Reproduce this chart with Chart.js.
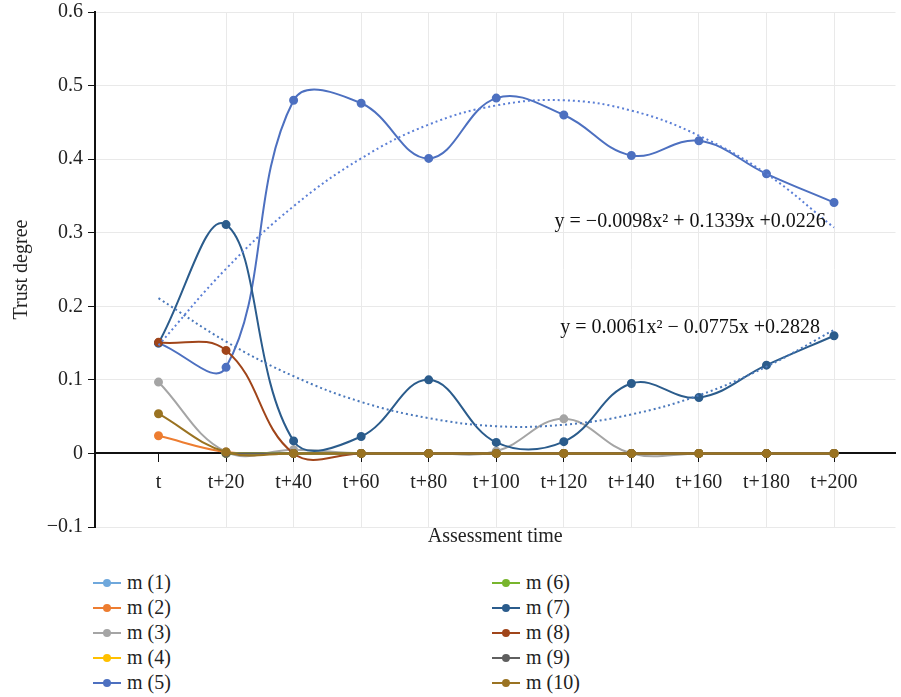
<!DOCTYPE html>
<html>
<head>
<meta charset="utf-8">
<script src="https://cdn.jsdelivr.net/npm/chart.js@4"></script>
<style>
  body { margin: 0; background: #fff; }
  #wrap { position: relative; width: 901px; height: 697px; }
  #box { position: absolute; left: 0; top: 0; width: 901px; height: 551px; }
  #legend {
    position: absolute; left: 93px; top: 570px;
    display: grid; grid-template-columns: 399px 200px; grid-template-rows: repeat(5, 25px);
    grid-auto-flow: column;
    font-family: "Liberation Serif", serif; font-size: 20px; color: #222;
  }
  .item { display: flex; align-items: center; }
  .sym { position: relative; width: 28px; height: 2px; margin-right: 6px; }
  .sym i { position: absolute; left: 10px; top: -3px; width: 8px; height: 8px; border-radius: 50%; }
</style>
</head>
<body>
<div id="wrap">
  <div id="box"><canvas id="myChart"></canvas></div>
  <div id="legend"></div>
</div>
<script>
// x categories
const times = ['t', 't+20', 't+40', 't+60', 't+80', 't+100', 't+120', 't+140', 't+160', 't+180', 't+200'];
const yTickLabels = ['\u22120.1', '0', '0.1', '0.2', '0.3', '0.4', '0.5', '0.6'];

const names = ['m (1)', 'm (2)', 'm (3)', 'm (4)', 'm (5)', 'm (6)', 'm (7)', 'm (8)', 'm (9)', 'm (10)'];
const colors = ['#6fa8dc', '#ed7d31', '#a5a5a5', '#ffc000', '#4d70c0', '#78b52d', '#2b5c8c', '#a0451a', '#5f5f5f', '#9a7322'];

// trust degree for each node (null = no mark)
const m1 = [null, 0, 0, 0, 0, 0, 0, 0, 0, 0, 0];
const m2 = [0.024, 0.002, 0, 0, 0, 0, 0, 0, 0, 0, 0];
const m3 = [0.097, 0.002, 0.005, 0, 0, 0.003, 0.047, 0, 0, 0, 0];
const m4 = [null, 0, 0, 0, 0, 0, 0, 0, 0, 0, 0];
const m5 = [0.15, 0.117, 0.48, 0.476, 0.401, 0.483, 0.46, 0.405, 0.425, 0.38, 0.341];
const m6 = [null, 0, 0, 0, 0, 0, 0, 0, 0, 0, 0];
const m7 = [0.15, 0.311, 0.017, 0.023, 0.1, 0.015, 0.016, 0.095, 0.076, 0.12, 0.16];
const m8 = [0.151, 0.14, 0, 0, 0, 0, 0, 0, 0, 0, 0];
const m9 = [null, 0, 0, 0, 0, 0, 0, 0, 0, 0, 0];
const m10 = [0.054, 0.002, 0, 0, 0, 0, 0, 0, 0, 0, 0];

// dotted trend curves
const trend5 = [0.147, 0.251, 0.336, 0.401, 0.447, 0.473, 0.48, 0.466, 0.432, 0.38, 0.307];
const trend7 = [0.211, 0.152, 0.105, 0.07, 0.048, 0.037, 0.039, 0.053, 0.079, 0.118, 0.168];
const eq5 = 'y = \u22120.0098x\u00b2 + 0.1339x +0.0226';
const eq7 = 'y = 0.0061x\u00b2 \u2212 0.0775x +0.2828';

const series = [m1, m2, m3, m4, m5, m6, m7, m8, m9, m10];
const FONT = '"Liberation Serif", serif';

function pts(arr) {
  return arr.map((v, i) => ({ x: i, y: v }));
}

const datasets = series.map((s, i) => ({
  label: names[i],
  data: pts(s),
  borderColor: colors[i],
  backgroundColor: colors[i],
  borderWidth: 2,
  pointRadius: 3.5,
  pointHoverRadius: 3.5,
  tension: 0.4,
  order: series.length - i + 2
}));

datasets.push({
  label: 'trend5', data: pts(trend5), borderColor: '#5b7fd6', borderWidth: 2,
  borderDash: [2, 3], pointRadius: 0, tension: 0.4, order: 1
});
datasets.push({
  label: 'trend7', data: pts(trend7), borderColor: '#4a78bb', borderWidth: 2,
  borderDash: [2, 3], pointRadius: 0, tension: 0.4, order: 2
});

// equation labels
const eqPlugin = {
  id: 'eq',
  afterDatasetsDraw(chart) {
    const c = chart.ctx;
    const xs = chart.scales.x, ys = chart.scales.y;
    c.save();
    c.font = '20px ' + FONT;
    c.fillStyle = '#111';
    c.textAlign = 'center';
    c.textBaseline = 'middle';
    c.fillText(eq5, xs.getPixelForValue(7.87), ys.getPixelForValue(0.315));
    c.fillText(eq7, xs.getPixelForValue(7.87), ys.getPixelForValue(0.171));
    c.restore();
  }
};

const ctx = document.getElementById('myChart').getContext('2d');
const myChart = new Chart(ctx, {
  type: 'line',
  data: { datasets: datasets },
  options: {
    responsive: true,
    maintainAspectRatio: false,
    animation: false,
    layout: { padding: { top: 12, right: 0, bottom: 0, left: 0 } },
    plugins: { legend: { display: false }, tooltip: { enabled: false } },
    scales: {
      x: {
        type: 'linear',
        position: { y: 0 },
        min: -0.94,
        max: 10.91,
        afterBuildTicks: (scale) => { scale.ticks = times.map((t, i) => ({ value: i })); },
        ticks: {
          callback: (v) => times[v],
          color: '#222',
          font: { family: FONT, size: 20 },
          padding: 9,
          maxRotation: 0,
          autoSkip: false
        },
        grid: {
          color: (c) => c.index === 0 ? 'rgba(0,0,0,0)' : '#e9e9e9',
          tickColor: '#111',
          tickLength: 8,
          lineWidth: 1
        },
        border: { color: '#111', width: 2 }
      },
      xt: {
        type: 'linear',
        position: 'bottom',
        min: -0.94,
        max: 10.91,
        afterFit: (scale) => { scale.height = 24; },
        grid: { display: false },
        border: { display: false },
        ticks: { display: false },
        title: {
          display: true,
          text: 'Assessment time',
          color: '#222',
          font: { family: FONT, size: 20 },
          padding: { top: 0, bottom: 2 }
        }
      },
      y: {
        min: -0.1,
        max: 0.6,
        afterFit: (scale) => {
          scale.width = 95;
          scale.paddingTop = 0;
        },
        ticks: {
          stepSize: 0.1,
          callback: (v, i) => yTickLabels[i],
          color: '#222',
          font: { family: FONT, size: 20 },
          padding: 5
        },
        grid: { color: '#e9e9e9', tickColor: '#111', tickLength: 7 },
        border: { color: '#111', width: 2 },
        title: {
          display: true,
          text: 'Trust degree',
          color: '#222',
          font: { family: FONT, size: 20 },
          padding: { top: 10, bottom: 0 }
        }
      }
    }
  },
  plugins: [eqPlugin]
});

// two column legend
const legend = document.getElementById('legend');
names.forEach((n, i) => {
  const item = document.createElement('div');
  item.className = 'item';
  item.innerHTML = '<span class="sym" style="background:' + colors[i] + '"><i style="background:' + colors[i] + '"></i></span>' + n;
  legend.appendChild(item);
});
</script>
</body>
</html>
